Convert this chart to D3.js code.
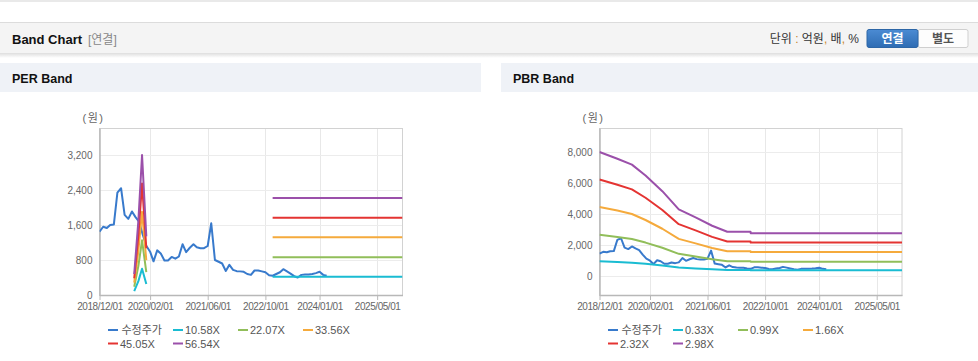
<!DOCTYPE html>
<html>
<head>
<meta charset="utf-8">
<script src="https://cdn.jsdelivr.net/npm/d3@7"></script>
<style>
  body { margin: 0; background: #fff; }
  svg { display: block; font-family: "Liberation Sans", Arial, "Noto Sans CJK KR", sans-serif; }
</style>
</head>
<body>
<svg id="chart" width="978" height="361"></svg>
<script>
// ---- data ----
var priceMonths = d3.timeMonth.range(new Date(2018, 11, 1), new Date(2024, 3, 1));
var priceValues = [1447, 1560, 1530, 1600, 1610, 2340, 2440, 1830, 1740, 1910, 1780, 1670,
    1380, 1120, 990, 770, 1020, 950, 790, 790, 870, 830, 880, 1160,
    980, 1080, 1160, 1090, 1070, 1070, 1120, 1640, 800, 760, 720, 550,
    690, 575, 545, 540, 530, 480, 460, 560, 560, 540, 520, 450,
    440, 480, 520, 590, 540, 490, 430, 400, 460, 470, 470, 480,
    500, 530, 460, 440];

var tickDates = ["2018-12-01", "2020-02-01", "2021-06-01", "2022-10-01", "2024-01-01", "2025-05-01"];
var xStart = "2018-12-01", xEnd = "2025-12-01";

// PER bands (null = gap)
var perBandDates = ["2019-09-20", "2019-10-25", "2019-11-25", "2019-12-31", "2021-01-01", "2022-12-01", "2025-12-01"];
var perLabels = ["10.58X", "22.07X", "33.56X", "45.05X", "56.54X"];
var per1 = [90, 317, 599, 251, null, 418, 418];
var per2 = [188, 662, 1249, 523, null, 864, 864];
var per3 = [285, 1007, 1900, 795, null, 1318, 1318];
var per4 = [383, 1352, 2550, 1068, null, 1768, 1768];
var per5 = [481, 1696, 3200, 1340, null, 2215, 2215];
var perTicks = [0, 800, 1600, 2400, 3200];

// PBR bands
var pbrBandDates = ["2018-12-01", "2019-05-01", "2019-09-01", "2019-12-25", "2020-05-15", "2020-10-01",
    "2021-02-20", "2021-07-10", "2021-11-15", "2022-05-31", "2022-06-01", "2025-12-01"];
var pbrLabels = ["0.33X", "0.99X", "1.66X", "2.32X", "2.98X"];
var pbr1 = [960, 900, 860, 790, 680, 550, 490, 430, 390, 390, 375, 375];
var pbr2 = [2663, 2520, 2390, 2160, 1822, 1431, 1257, 1079, 950, 950, 921, 921];
var pbr3 = [4465, 4230, 4010, 3620, 3054, 2399, 2108, 1809, 1594, 1594, 1544, 1544];
var pbr4 = [6241, 5900, 5600, 5060, 4269, 3352, 2946, 2529, 2227, 2227, 2158, 2158];
var pbr5 = [8016, 7580, 7200, 6500, 5483, 4306, 3785, 3248, 2861, 2861, 2771, 2771];
var pbrTicks = [0, 2000, 4000, 6000, 8000];

var colors = ["#387acc", "#1abcd2", "#91be5a", "#f5aa3c", "#e43432", "#9b50aa"];

var parse = d3.timeParse("%Y-%m-%d");
var fmt = d3.timeFormat("%Y/%m/%d");
var svg = d3.select("#chart");

// ---- page chrome ----
svg.append("rect").attr("x", 0).attr("y", 0).attr("width", 978).attr("height", 2).attr("fill", "#e9e9e9");

var defs = svg.append("defs");
var sh = defs.append("linearGradient").attr("id", "shadow").attr("x1", 0).attr("y1", 0).attr("x2", 0).attr("y2", 1);
sh.append("stop").attr("offset", "0").attr("stop-color", "#000").attr("stop-opacity", 0.13);
sh.append("stop").attr("offset", "1").attr("stop-color", "#000").attr("stop-opacity", 0);
var bl = defs.append("linearGradient").attr("id", "blueBtn").attr("x1", 0).attr("y1", 0).attr("x2", 0).attr("y2", 1);
bl.append("stop").attr("offset", "0").attr("stop-color", "#4b8bd3");
bl.append("stop").attr("offset", "1").attr("stop-color", "#2e6cb3");

svg.append("rect").attr("x", 0).attr("y", 23).attr("width", 978).attr("height", 30).attr("fill", "#f4f4f4");
svg.append("rect").attr("x", 0).attr("y", 22).attr("width", 978).attr("height", 1).attr("fill", "#dcdcdc");
svg.append("rect").attr("x", 0).attr("y", 53).attr("width", 978).attr("height", 5).attr("fill", "url(#shadow)");

svg.append("text").attr("x", 12).attr("y", 44).attr("font-size", 13).attr("font-weight", "bold")
    .attr("fill", "#111").text("Band Chart");
svg.append("text").attr("x", 88).attr("y", 44).attr("font-size", 12).attr("fill", "#888").text("[연결]");

var unit = svg.append("text").attr("x", 859).attr("y", 43).attr("font-size", 12)
    .attr("text-anchor", "end").attr("fill", "#333");
unit.append("tspan").text("단위 ");
unit.append("tspan").attr("fill", "#c8862e").text(":");
unit.append("tspan").text(" 억원");
unit.append("tspan").attr("fill", "#c8862e").text(",");
unit.append("tspan").text(" 배");
unit.append("tspan").attr("fill", "#c8862e").text(",");
unit.append("tspan").text(" %");

svg.append("rect").attr("x", 918).attr("y", 29.5).attr("width", 50).attr("height", 18).attr("rx", 2)
    .attr("fill", "#fdfdfd").attr("stroke", "#cfcfcf");
svg.append("rect").attr("x", 867).attr("y", 29.5).attr("width", 51).attr("height", 18).attr("rx", 2)
    .attr("fill", "url(#blueBtn)").attr("stroke", "#2d66a6");
svg.append("text").attr("x", 892.5).attr("y", 42.5).attr("font-size", 12).attr("font-weight", "bold")
    .attr("text-anchor", "middle").attr("fill", "#fff").text("연결");
svg.append("text").attr("x", 943).attr("y", 42.5).attr("font-size", 12).attr("font-weight", "bold")
    .attr("text-anchor", "middle").attr("fill", "#555").text("별도");

// ---- one band panel ----
var plotTop = 128, plotBottom = 295;

function drawPanel(cfg) {
    var g = svg.append("g");

    g.append("rect").attr("x", cfg.barX).attr("y", 63).attr("width", cfg.barW).attr("height", 29).attr("fill", "#eff2f7");
    g.append("text").attr("x", cfg.barX + 12).attr("y", 83).attr("font-size", 12.5).attr("font-weight", "bold")
        .attr("fill", "#111").text(cfg.title);

    var x = d3.scaleTime().domain([parse(xStart), parse(xEnd)]).range([cfg.left, cfg.right]);
    var y = d3.scaleLinear().domain(cfg.yDomain).range([plotBottom, plotTop]);
    var ticks = tickDates.map(parse);

    g.selectAll(".vg").data(ticks.slice(1)).join("line")
        .attr("x1", function (d) { return Math.round(x(d)) + 0.5; })
        .attr("x2", function (d) { return Math.round(x(d)) + 0.5; })
        .attr("y1", plotTop).attr("y2", plotBottom).attr("stroke", "#e8e8e8");
    g.selectAll(".hg").data(cfg.yTicks).join("line")
        .attr("x1", cfg.left).attr("x2", cfg.right)
        .attr("y1", function (d) { return Math.round(y(d)) + 0.5; })
        .attr("y2", function (d) { return Math.round(y(d)) + 0.5; })
        .attr("stroke", "#ececec");

    g.append("rect").attr("x", cfg.left).attr("y", plotTop + 0.5)
        .attr("width", cfg.right - cfg.left).attr("height", plotBottom - plotTop)
        .attr("fill", "none").attr("stroke", "#d2d2d2");

    var xa = g.append("g").attr("transform", "translate(0," + plotBottom + ")")
        .call(d3.axisBottom(x).tickValues(ticks).tickFormat(fmt).tickSizeInner(5).tickSizeOuter(0).tickPadding(3));
    var ya = g.append("g").attr("transform", "translate(" + cfg.left + ",0)")
        .call(d3.axisLeft(y).tickValues(cfg.yTicks).tickFormat(d3.format(",")).tickSize(0).tickPadding(7));
    [xa, ya].forEach(function (a) {
        a.select(".domain").attr("stroke", "#b8b8b8").attr("stroke-width", 1.5);
        a.selectAll(".tick line").attr("stroke", "#b8b8b8");
        a.selectAll("text").attr("fill", "#666").attr("font-size", 10)
            .attr("font-family", "'Liberation Sans', Arial, sans-serif");
    });
    xa.selectAll("text").attr("letter-spacing", -0.45);

    g.append("text").attr("x", cfg.left - 17).attr("y", 122).attr("font-size", 11)
        .attr("letter-spacing", 1.5).attr("fill", "#666").text("(원)");

    var clipId = "clip" + cfg.title.replace(" ", "");
    defs.append("clipPath").attr("id", clipId).append("rect")
        .attr("x", cfg.left).attr("y", plotTop).attr("width", cfg.right - cfg.left).attr("height", plotBottom - plotTop);
    var plot = g.append("g").attr("clip-path", "url(#" + clipId + ")");

    var line = d3.line()
        .defined(function (d) { return d.v != null; })
        .x(function (d) { return x(d.date); })
        .y(function (d) { return y(d.v); });

    var series = [priceMonths.map(function (m, i) { return { date: m, v: priceValues[i] }; })];
    var bandDates = cfg.bandDates.map(parse);
    cfg.bands.forEach(function (b) {
        series.push(b.map(function (v, i) { return { date: bandDates[i], v: v }; }));
    });

    plot.selectAll(".series").data(series).join("path")
        .attr("d", line).attr("fill", "none")
        .attr("stroke", function (d, i) { return colors[i]; })
        .attr("stroke-width", 2).attr("stroke-linejoin", "round");

    var names = ["수정주가"].concat(cfg.labels);
    var leg = g.selectAll(".leg").data(names).join("g")
        .attr("transform", function (d, i) {
            return "translate(" + (cfg.left + 8.5 + (i % 4) * 65) + "," + (330 + Math.floor(i / 4) * 13.5) + ")";
        });
    leg.append("line").attr("x1", 0).attr("x2", 10).attr("y1", 0).attr("y2", 0)
        .attr("stroke", function (d, i) { return colors[i]; }).attr("stroke-width", 2);
    leg.append("text").attr("x", function (d, i) { return i === 0 ? 13.5 : 12; }).attr("y", 4)
        .attr("font-size", 11).attr("fill", "#555").text(function (d) { return d; });
}

drawPanel({
    title: "PER Band", barX: 0, barW: 481, left: 99.5, right: 402.5,
    yDomain: [0, 3817], yTicks: perTicks,
    bandDates: perBandDates, bands: [per1, per2, per3, per4, per5], labels: perLabels
});
drawPanel({
    title: "PBR Band", barX: 501, barW: 477, left: 599.5, right: 902,
    yDomain: [-1230, 9570], yTicks: pbrTicks,
    bandDates: pbrBandDates, bands: [pbr1, pbr2, pbr3, pbr4, pbr5], labels: pbrLabels
});
</script>
</body>
</html>
